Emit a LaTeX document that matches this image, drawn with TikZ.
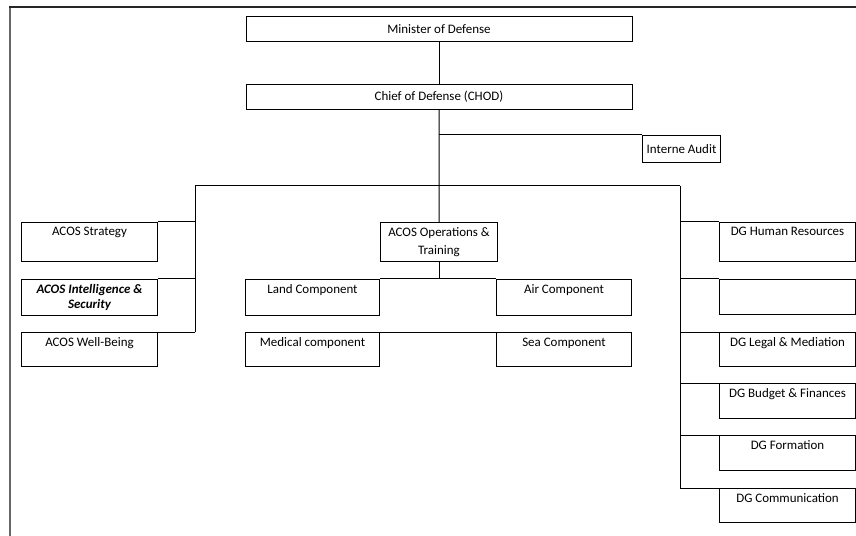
\documentclass[tikz,border=0pt]{standalone}
\usepackage{fontspec}
\setmainfont{Carlito}
\begin{document}
\begin{tikzpicture}[x=1bp,y=-1bp,
  box/.style={draw, line width=1bp, anchor=north west, inner sep=0pt, align=center,
              font=\fontsize{13}{16}\selectfont},
  topbox/.style={box, text height=13.5bp, text depth=#1},
  link/.style={draw, line width=1bp}
]
\useasboundingbox (0,0) rectangle (856,536);
\fill[white] (0,0) rectangle (856,536);
% page frame
\draw[line width=2bp, black!60] (10,536) -- (10,7);
\draw[line width=1.5bp, black!85] (9,7) -- (856,7);

% top
\node[box, minimum width=386bp, minimum height=25bp] (min) at (245.5,16) {Minister of Defense};
\node[box, minimum width=386bp, minimum height=25bp] (chod) at (245.5,84) {Chief of Defense (CHOD)};
\node[box, minimum width=78bp, minimum height=27bp, anchor=north west] (audit) at (642,135) {Interne Audit};

% left column
\node[topbox=25.5bp, minimum width=136bp] (strat) at (21,222) {ACOS Strategy};
\node[box, minimum width=136bp, minimum height=36bp, font=\fontsize{13}{16}\selectfont\bfseries\itshape] (intel) at (21,279) {ACOS Intelligence \&\\Security};
\node[topbox=20.5bp, minimum width=136bp] (well) at (21,332) {ACOS Well-Being};

% centre
\node[box, minimum width=117bp, minimum height=39bp, font=\fontsize{13}{18}\selectfont] (ops) at (380,222) {ACOS Operations \&\\Training};
\node[topbox=22.5bp, minimum width=134bp] (land) at (245,279) {Land Component};
\node[topbox=22.5bp, minimum width=135bp] (air) at (496,279) {Air Component};
\node[topbox=20.5bp, minimum width=134bp] (med) at (245,332) {Medical component};
\node[topbox=20.5bp, minimum width=135bp] (sea) at (496,332) {Sea Component};

% right column
\node[topbox=25.5bp, minimum width=136bp] (hr) at (719,222) {DG Human Resources};
\node[topbox=21.5bp, minimum width=136bp] (empty) at (719,279) {};
\node[topbox=20.5bp, minimum width=136bp] (legal) at (719,332) {DG Legal \& Mediation};
\node[topbox=21.5bp, minimum width=136bp] (budget) at (719,383) {DG Budget \& Finances};
\node[topbox=21.5bp, minimum width=136bp] (form) at (719,435) {DG Formation};
\node[topbox=20.5bp, minimum width=136bp] (comm) at (719,488) {DG Communication};

% bus coordinates
\coordinate (busL) at (195,186);
\coordinate (busR) at (680,186);

% connectors
\draw[link] (min.south) -- (chod.north);
\draw[link] (chod.south) -- (ops.north);
\draw[link] (chod.south |- audit.north west) -- (audit.north west);
\draw[link] (busL) -- (busR);
\draw[link] (busL) -- (busL |- well.north east);
\draw[link] (busL |- strat.north east) -- (strat.north east);
\draw[link] (busL |- intel.north east) -- (intel.north east);
\draw[link] (busL |- well.north east) -- (well.north east);
\draw[link] (busR) -- (busR |- comm.north west);
\foreach \n in {hr,empty,legal,budget,form,comm}
  \draw[link] (busR |- \n.north west) -- (\n.north west);
\draw[link] (ops.south) -- (ops.south |- land.north east);
\draw[link] (land.north east) -- (air.north west);
\draw[link] (med.north east) -- (sea.north west);
\end{tikzpicture}
\end{document}
